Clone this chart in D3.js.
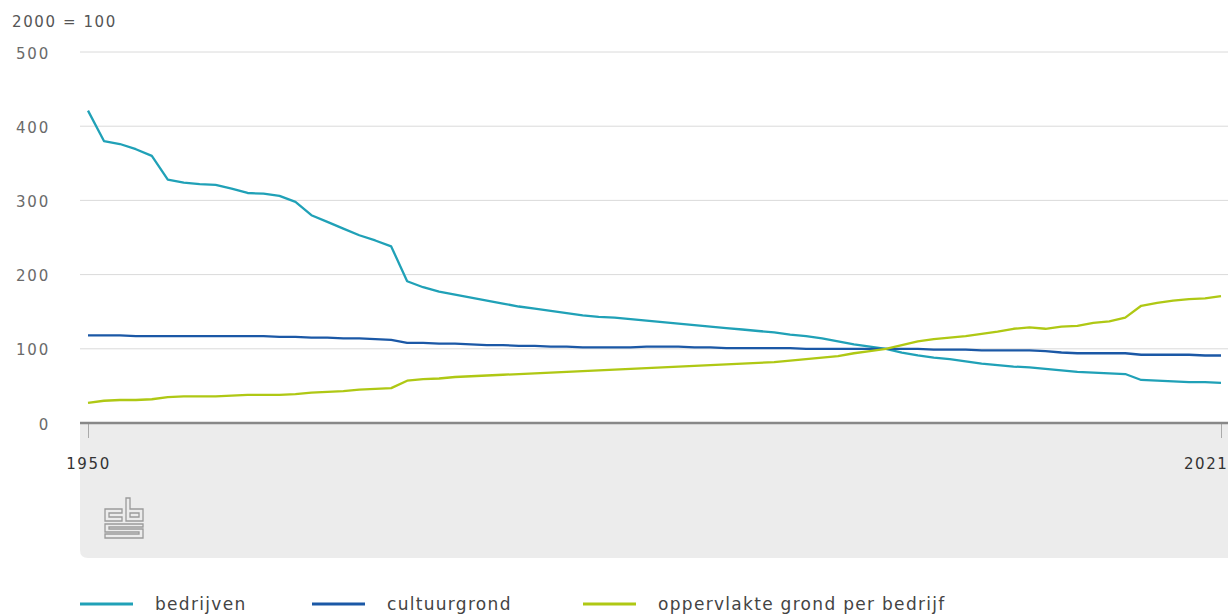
<!DOCTYPE html>
<html>
<head>
<meta charset="utf-8">
<script src="https://cdn.jsdelivr.net/npm/d3@7"></script>
<style>
  body { margin: 0; background: #fff; }
  svg { display: block; font-family: "DejaVu Sans", sans-serif; }
</style>
</head>
<body>
<svg class="chart"></svg>
<script>
// index, 2000 = 100
var years = d3.range(1950, 2022);

var bedrijven = [421, 380, 376, 369, 360, 328, 324, 322, 321, 316,
  310, 309, 306, 298, 280, 271, 262, 253, 246, 238,
  191, 183, 177, 173, 169, 165, 161, 157, 154, 151,
  148, 145, 143, 142, 140, 138, 136, 134, 132, 130,
  128, 126, 124, 122, 119, 117, 114, 110, 106, 103,
  100, 95, 91, 88, 86, 83, 80, 78, 76, 75,
  73, 71, 69, 68, 67, 66, 58, 57, 56, 55,
  55, 54];

var cultuurgrond = [118, 118, 118, 117, 117, 117, 117, 117, 117, 117,
  117, 117, 116, 116, 115, 115, 114, 114, 113, 112,
  108, 108, 107, 107, 106, 105, 105, 104, 104, 103,
  103, 102, 102, 102, 102, 103, 103, 103, 102, 102,
  101, 101, 101, 101, 101, 100, 100, 100, 100, 100,
  100, 100, 100, 99, 99, 99, 98, 98, 98, 98,
  97, 95, 94, 94, 94, 94, 92, 92, 92, 92,
  91, 91];

var grondPerBedrijf = [27, 30, 31, 31, 32, 35, 36, 36, 36, 37,
  38, 38, 38, 39, 41, 42, 43, 45, 46, 47,
  57, 59, 60, 62, 63, 64, 65, 66, 67, 68,
  69, 70, 71, 72, 73, 74, 75, 76, 77, 78,
  79, 80, 81, 82, 84, 86, 88, 90, 94, 97,
  100, 105, 110, 113, 115, 117, 120, 123, 127, 129,
  127, 130, 131, 135, 137, 142, 158, 162, 165, 167,
  168, 171];

var seriesNames = ["bedrijven", "cultuurgrond", "oppervlakte grond per bedrijf"];
var seriesValues = [bedrijven, cultuurgrond, grondPerBedrijf];
var colors = ["#20a1b7", "#1b58a6", "#afc814"];
var yTicks = [0, 100, 200, 300, 400, 500];
var xTicks = [1950, 2021];

var width = 1228, height = 615;
var svg = d3.select(".chart").attr("width", width).attr("height", height);

var x = d3.scaleLinear().domain([1950, 2021]).range([88, 1221]);
var y = d3.scaleLinear().domain([0, 500]).range([423, 52]);

// grey footer band under the axis
svg.append("path")
  .attr("d", "M80,424 H1228 V558 H88 Q80,558 80,550 Z")
  .attr("fill", "#ececec");

// gridlines
svg.append("g")
  .selectAll("line")
  .data(yTicks.filter(function(d) { return d > 0; }))
  .enter().append("line")
  .attr("x1", 80).attr("x2", width)
  .attr("y1", function(d) { return y(d); })
  .attr("y2", function(d) { return y(d); })
  .attr("stroke", "#dadada")
  .attr("stroke-width", 1);

// y labels
var yAxis = svg.append("g")
  .attr("transform", "translate(50,0)")
  .call(d3.axisLeft(y).tickValues(yTicks).tickSize(0).tickPadding(0));
yAxis.select(".domain").remove();
yAxis.selectAll("text")
  .attr("font-family", "DejaVu Sans")
  .attr("font-size", 15)
  .attr("letter-spacing", 1.8)
  .attr("fill", "#6a6a6a")
  .attr("dy", "0.4em");

svg.append("text")
  .attr("x", 12).attr("y", 27)
  .attr("font-size", 15)
  .attr("letter-spacing", 1.6)
  .attr("fill", "#555")
  .text("2000 = 100");

// x axis
var xAxis = svg.append("g")
  .attr("transform", "translate(0,424)")
  .call(d3.axisBottom(x).tickValues(xTicks).tickFormat(d3.format("d")).tickSize(14).tickPadding(20));
xAxis.select(".domain").remove();
xAxis.selectAll("line").attr("stroke", "#aaa").attr("stroke-width", 1);
xAxis.selectAll("text")
  .attr("font-family", "DejaVu Sans")
  .attr("font-size", 15)
  .attr("letter-spacing", 1.6)
  .attr("fill", "#333")
  .attr("text-anchor", function(d) { return d === 2021 ? "end" : "middle"; })
  .attr("dx", function(d) { return d === 2021 ? 7 : 0; });

svg.append("line")
  .attr("x1", 80).attr("x2", width)
  .attr("y1", 423).attr("y2", 423)
  .attr("stroke", "#888")
  .attr("stroke-width", 2.5);

// lines
var line = d3.line()
  .x(function(d, i) { return x(years[i]); })
  .y(function(d) { return y(d); });

svg.append("g")
  .selectAll("path")
  .data(seriesValues)
  .enter().append("path")
  .attr("d", line)
  .attr("fill", "none")
  .attr("stroke", function(d, i) { return colors[i]; })
  .attr("stroke-width", 2.3)
  .attr("stroke-linejoin", "round");

// cbs logo
var logo = svg.append("g")
  .attr("transform", "translate(105,498)")
  .attr("fill", "none")
  .attr("stroke", "#9a9a9a")
  .attr("stroke-width", 1.3);
logo.append("path").attr("d", "M17,11 H0 V23 H17 V19 H4 V15 H17 Z");
logo.append("path").attr("d", "M21,0 H25 V11 H38 V23 H21 Z M25,15 H34 V19 H25 Z");
logo.append("path").attr("d", "M38,26 H0 V34 H34 V36 H0 V40 H38 V31 H4 V29 H38 Z");

// legend
var legendX = [80, 312, 583];
var legend = svg.append("g").selectAll("g")
  .data(seriesNames)
  .enter().append("g")
  .attr("transform", function(d, i) { return "translate(" + legendX[i] + ",604)"; });
legend.append("line")
  .attr("x1", 0).attr("x2", 53)
  .attr("stroke", function(d, i) { return colors[i]; })
  .attr("stroke-width", 3);
legend.append("text")
  .attr("x", 75).attr("y", 6)
  .attr("font-size", 17)
  .attr("letter-spacing", 1.3)
  .attr("fill", "#444")
  .text(function(d) { return d; });
</script>
</body>
</html>
